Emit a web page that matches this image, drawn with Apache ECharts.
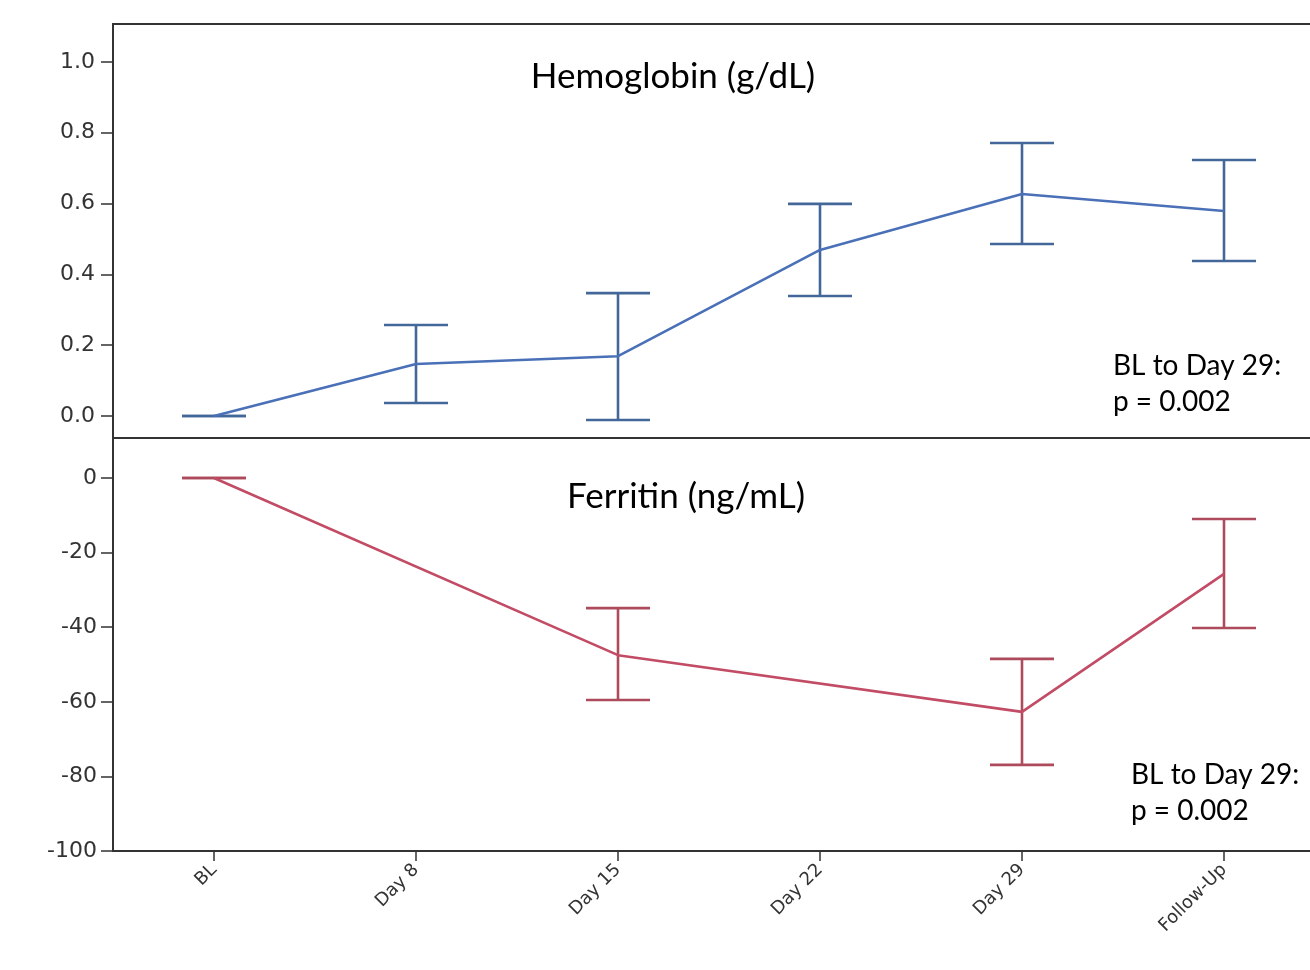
<!DOCTYPE html>
<html>
<head>
<meta charset="utf-8">
<script src="https://cdn.jsdelivr.net/npm/echarts@6/dist/echarts.min.js"></script>
<style>
html,body{margin:0;padding:0;background:#fff;}
#c{width:1310px;height:970px;}
</style>
</head>
<body>
<div id="c"></div>
<script>
// ---- data ----
const categories = ['BL', 'Day 8', 'Day 15', 'Day 22', 'Day 29', 'Follow-Up'];

const hbMean  = [0, 0.147, 0.169, 0.469, 0.627, 0.579];
const hbLower = [0, 0.037, -0.011, 0.339, 0.486, 0.438];
const hbUpper = [0, 0.257, 0.347, 0.599, 0.771, 0.723];

const ferMean  = [0, null, -47.5, null, -62.7, -25.7];
const ferLower = [0, null, -59.5, null, -76.9, -40.2];
const ferUpper = [0, null, -34.9, null, -48.5, -11.0];

const hbTicks = [0, 0.2, 0.4, 0.6, 0.8, 1.0];
const ferTicks = [0, -20, -40, -60, -80, -100];
const ferMinorTicks = [-10, -30, -50, -70, -90];

const hbTitle = 'Hemoglobin (g/dL)';
const ferTitle = 'Ferritin (ng/mL)';
const pNote = ['BL to Day 29:', 'p = 0.002'];

// ---- styles ----
const blueLine = '#4a70b8', blueErr = '#44679a';
const redLine = '#c24c65', redErr = '#ad4a5c';
const axisColor = '#333';
const labelFont = 'DejaVu Sans';
const textFont = 'Lato';

function errData(lo, hi) {
  const out = [];
  for (let i = 0; i < lo.length; i++) {
    if (lo[i] !== null && hi[i] !== null) out.push([i, lo[i], hi[i]]);
  }
  return out;
}
function makeErr(color) {
  return function (params, api) {
    const x = api.value(0), lo = api.value(1), hi = api.value(2);
    const pLo = api.coord([x, lo]), pHi = api.coord([x, hi]);
    const hw = 32;
    const st = { stroke: color, lineWidth: 2.6 };
    return {
      type: 'group',
      children: [
        { type: 'line', shape: { x1: pHi[0], y1: pHi[1], x2: pLo[0], y2: pLo[1] }, style: st },
        { type: 'line', shape: { x1: pHi[0] - hw, y1: pHi[1], x2: pHi[0] + hw, y2: pHi[1] }, style: st },
        { type: 'line', shape: { x1: pLo[0] - hw, y1: pLo[1], x2: pLo[0] + hw, y2: pLo[1] }, style: st }
      ]
    };
  };
}

const chart = echarts.init(document.getElementById('c'));
const gridBase = { left: 113, width: 1212, outerBoundsMode: 'none', containLabel: false,
  show: true, borderColor: axisColor, borderWidth: 2, backgroundColor: 'transparent' };

chart.setOption({
  animation: false,
  backgroundColor: '#fff',
  grid: [
    Object.assign({ top: 24, height: 414 }, gridBase),
    Object.assign({ top: 438, height: 413 }, gridBase)
  ],
  xAxis: [
    { type: 'category', gridIndex: 0, data: categories, boundaryGap: true,
      axisLine: { show: false }, axisTick: { show: false }, axisLabel: { show: false }, splitLine: { show: false } },
    { type: 'category', gridIndex: 1, data: categories, boundaryGap: true, position: 'bottom',
      axisLine: { show: true, onZero: false, lineStyle: { color: axisColor, width: 2 } },
      axisTick: { show: true, alignWithLabel: true, length: 10, lineStyle: { color: axisColor, width: 1.5 } },
      axisLabel: { rotate: 45, margin: 16, color: axisColor, fontFamily: labelFont, fontSize: 18 },
      splitLine: { show: false } }
  ],
  yAxis: [
    { type: 'value', gridIndex: 0, min: -0.062, max: 1.107,
      axisLine: { show: true, lineStyle: { color: axisColor, width: 2 } },
      axisTick: { show: true, length: 12, customValues: hbTicks, lineStyle: { color: axisColor, width: 1.5 } },
      axisLabel: { customValues: hbTicks, margin: 18, color: axisColor, fontFamily: labelFont, fontSize: 22,
        formatter: v => v.toFixed(1) },
      splitLine: { show: false } },
    { type: 'value', gridIndex: 1, min: -100, max: 10.72,
      axisLine: { show: true, lineStyle: { color: axisColor, width: 2 } },
      axisTick: { show: true, length: 12, customValues: ferTicks, lineStyle: { color: axisColor, width: 1.5 } },
      axisLabel: { customValues: ferTicks, margin: 16, color: axisColor, fontFamily: labelFont, fontSize: 22 },
      splitLine: { show: false } },
    { type: 'value', gridIndex: 1, min: -100, max: 10.72,
      axisLine: { show: false },
      axisTick: { show: true, length: 6, customValues: ferMinorTicks, lineStyle: { color: axisColor, width: 1.5 } },
      axisLabel: { show: false },
      splitLine: { show: false } }
  ],
  series: [
    { type: 'custom', xAxisIndex: 0, yAxisIndex: 0, renderItem: makeErr(blueErr), data: errData(hbLower, hbUpper), z: 2 },
    { type: 'line', xAxisIndex: 0, yAxisIndex: 0, data: hbMean, symbol: 'none',
      lineStyle: { color: blueLine, width: 2.6 }, z: 3 },
    { type: 'custom', xAxisIndex: 1, yAxisIndex: 1, renderItem: makeErr(redErr), data: errData(ferLower, ferUpper), z: 2 },
    { type: 'line', xAxisIndex: 1, yAxisIndex: 1, data: ferMean, symbol: 'none', connectNulls: true,
      lineStyle: { color: redLine, width: 2.6 }, z: 3 }
  ],
  graphic: [
    { type: 'text', x: 673, y: 77, style: { text: hbTitle, fill: '#000', font: '35px ' + textFont, align: 'center', verticalAlign: 'middle' } },
    { type: 'text', x: 686, y: 497, style: { text: ferTitle, fill: '#000', font: '35px ' + textFont, align: 'center', verticalAlign: 'middle' } },
    { type: 'text', x: 1113, y: 366, style: { text: pNote[0], fill: '#000', font: '28px ' + textFont, align: 'left', verticalAlign: 'middle' } },
    { type: 'text', x: 1113, y: 402, style: { text: pNote[1], fill: '#000', font: '28px ' + textFont, align: 'left', verticalAlign: 'middle' } },
    { type: 'text', x: 1131, y: 775, style: { text: pNote[0], fill: '#000', font: '28px ' + textFont, align: 'left', verticalAlign: 'middle' } },
    { type: 'text', x: 1131, y: 811, style: { text: pNote[1], fill: '#000', font: '28px ' + textFont, align: 'left', verticalAlign: 'middle' } }
  ]
});
</script>
</body>
</html>
